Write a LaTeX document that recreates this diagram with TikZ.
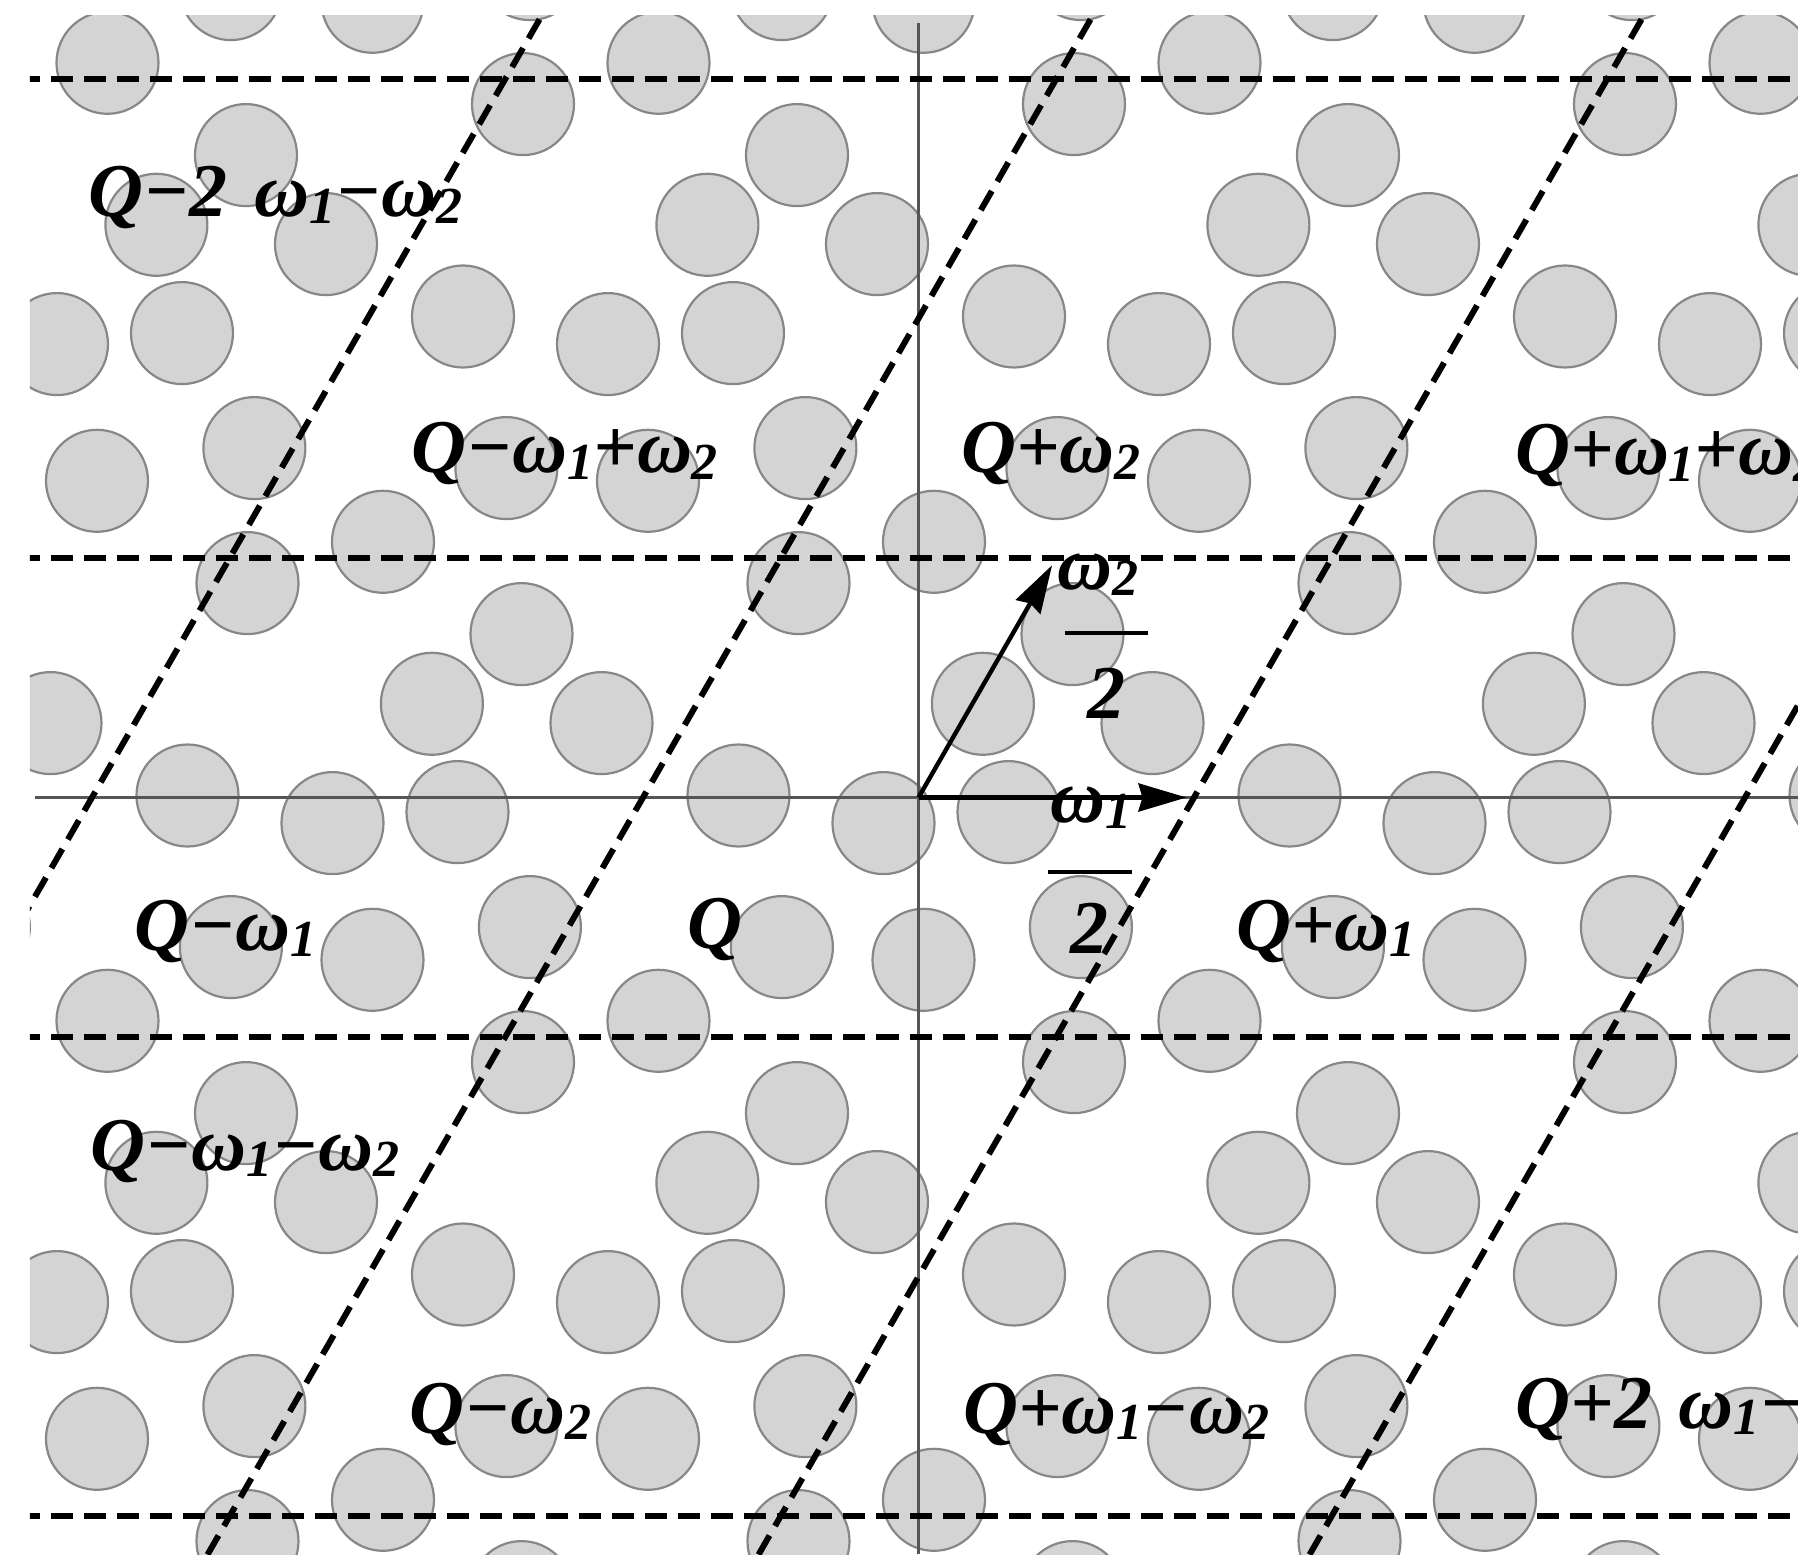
\documentclass[tikz,border=0pt]{standalone}
\usepackage{fontspec}
\setmainfont{Liberation Serif}
\usetikzlibrary{arrows.meta}
\definecolor{discfill}{RGB}{212,212,212}
\definecolor{discedge}{RGB}{135,135,135}
\definecolor{axisgray}{RGB}{85,85,85}
\newcommand{\lsub}[1]{\raisebox{-1.6pt}{\fontsize{13}{13}\selectfont #1}}
\begin{document}
\begin{tikzpicture}[x=0.25pt,y=0.25pt,
  disc/.style={fill=discfill,draw=discedge,line width=0.55pt},
  axisline/.style={draw=axisgray,line width=0.85pt},
  cellline/.style={draw=black,line width=1.5pt,dash pattern=on 5.5pt off 2.75pt},
  vec/.style={draw=black,line width=1.1pt,-{Stealth[length=12pt,width=7pt,inset=1pt]}},
  lab/.style={font=\fontsize{19}{19}\selectfont\bfseries\itshape,inner sep=0pt,anchor=base west},
  fracbar/.style={draw=black,line width=1.1pt}
]
\useasboundingbox (-918.5,-756.5) rectangle (879.5,797.5);
\begin{scope}
\clip (-888.5,-756.5) rectangle (879.5,781.5);
% periodic discs
\foreach \cu/\cv in {-120/214.4,-260/-223.3,234/74.4,-180/2,-35/-25.6,-136.6/-149.6,5/-162.3,64.4/93.7,154/163.4,90/-14.6,162.4/-129.6}{
  \foreach \m in {-4,...,4}{
    \foreach \n in {-2,...,2}{
      \draw[disc] ({\cu+\m*551+\n*275.5},{\cv+\n*479}) circle[radius=51];
    }
  }
}
% axes
\coordinate (O) at (0,0);
\coordinate (axL) at (-883.5,0);
\coordinate (axR) at (879.5,0);
\coordinate (axT) at (0,774.5);
\coordinate (axB) at (0,-756.5);
\draw[axisline] (axL) -- (axR);
\draw[axisline] (axT) -- (axB);
% labels
\node[lab] (l1) at (-830.5,580.5) {Q−2\hspace{0.35em}ω\lsub{1}−ω\lsub{2}};
\node[lab] (l2) at (-507.5,324.5) {Q−ω\lsub{1}+ω\lsub{2}};
\node[lab] (l3) at (42.5,324.5) {Q+ω\lsub{2}};
\node[lab] (l4) at (596.5,322.5) {Q+ω\lsub{1}+ω\lsub{2}};
\node[lab] (l5) at (-784.5,-152.5) {Q−ω\lsub{1}};
\node[lab] (l6) at (-231.5,-150.5) {Q};
\node[lab] (l7) at (317.5,-152.5) {Q+ω\lsub{1}};
\node[lab] (l8) at (-828.5,-372.5) {Q−ω\lsub{1}−ω\lsub{2}};
\node[lab] (l9) at (-509.5,-635.5) {Q−ω\lsub{2}};
\node[lab] (l10) at (44.5,-635.5) {Q+ω\lsub{1}−ω\lsub{2}};
\node[lab] (l11) at (596.5,-630.5) {Q+2\hspace{0.35em}ω\lsub{1}−ω\lsub{2}};
% half-period fractions
\node[lab] (f2n) at (138.5,208.5) {ω\lsub{2}};
\coordinate (b2l) at (146.5,164.5);
\coordinate (b2r) at (229.5,164.5);
\draw[fracbar] (b2l) -- (b2r);
\node[lab] (f2d) at (168.5,79.5) {2};
\node[lab] (f1n) at (131.5,-24.5) {ω\lsub{1}};
\coordinate (b1l) at (129.5,-74.5);
\coordinate (b1r) at (213.5,-74.5);
\draw[fracbar] (b1l) -- (b1r);
\node[lab] (f1d) at (151.5,-155.5) {2};
% cell boundaries
\foreach \hv in {718.5,239.5,-239.5,-718.5}{
  \draw[cellline] (-900,\hv) -- (900,\hv);
}
\foreach \su in {-826.5,-275.5,275.5,826.5}{
  \draw[cellline] ({\su-468.35},-814.3) -- ({\su+468.35},814.3);
}
% half-period vectors
\coordinate (h1) at (268,0);
\coordinate (h2) at (133.6,232.3);
\draw[vec] (O) -- (h1);
\draw[vec] (O) -- (h2);
\end{scope}
\end{tikzpicture}
\end{document}
